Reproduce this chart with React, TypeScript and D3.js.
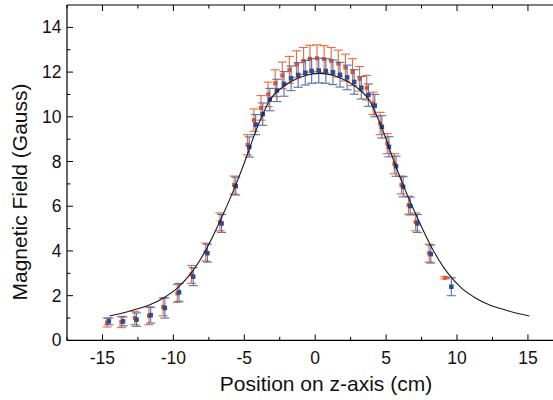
import React from "react";
import * as d3 from "d3";

// Blue series (measured)
const blueZ = [-14.55, -13.55, -12.6, -11.6, -10.6, -9.6, -8.6, -7.6, -6.6, -5.6, -4.65, -4.2, -3.7, -3.2, -2.7, -2.2, -1.7, -1.2, -0.7, -0.25, 0.25, 0.75, 1.25, 1.75, 2.25, 2.75, 3.25, 3.75, 4.2, 4.7, 5.2, 5.7, 6.2, 6.7, 7.2, 8.15, 9.6];
const blueB = [0.85, 0.85, 0.93, 1.13, 1.45, 2.15, 2.85, 3.9, 5.23, 6.9, 8.65, 9.65, 10.12, 10.77, 11.18, 11.47, 11.72, 11.87, 11.97, 12.05, 12.07, 12.05, 11.99, 11.88, 11.76, 11.56, 11.3, 10.97, 10.5, 9.55, 8.66, 7.79, 6.87, 6.01, 5.23, 3.86, 2.4];
const blueErr = [0.15, 0.2, 0.3, 0.35, 0.45, 0.4, 0.4, 0.4, 0.4, 0.4, 0.45, 0.45, 0.5, 0.5, 0.5, 0.55, 0.55, 0.55, 0.55, 0.55, 0.55, 0.55, 0.55, 0.55, 0.55, 0.55, 0.5, 0.5, 0.5, 0.5, 0.45, 0.45, 0.45, 0.4, 0.4, 0.4, 0.4];

// Orange series (measured)
const orangeZ = [-14.67, -13.67, -12.72, -11.72, -10.72, -9.72, -8.72, -7.72, -6.72, -5.72, -4.77, -4.32, -3.82, -3.32, -2.82, -2.32, -1.82, -1.32, -0.82, -0.37, 0.13, 0.63, 1.13, 1.63, 2.13, 2.63, 3.13, 3.63, 4.08, 4.58, 5.08, 5.58, 6.08, 6.58, 7.08, 8.03, 9.15];
const orangeB = [0.8, 0.82, 1.0, 1.1, 1.5, 2.1, 2.95, 3.95, 5.3, 6.95, 8.75, 9.85, 10.4, 11.0, 11.5, 11.85, 12.1, 12.35, 12.5, 12.6, 12.62, 12.58, 12.5, 12.38, 12.2, 12.0, 11.7, 11.3, 10.6, 9.7, 8.8, 7.9, 6.95, 6.05, 5.3, 3.9, 2.8];
const orangeErr = [0.2, 0.25, 0.3, 0.4, 0.4, 0.4, 0.4, 0.4, 0.4, 0.4, 0.45, 0.5, 0.55, 0.55, 0.6, 0.6, 0.6, 0.6, 0.6, 0.6, 0.6, 0.6, 0.6, 0.6, 0.6, 0.6, 0.55, 0.55, 0.5, 0.5, 0.45, 0.45, 0.4, 0.4, 0.4, 0.4, 0.05];

// Theory curve samples
const curveZ = [-14.5, -13.7, -12.7, -11.7, -10.7, -9.7, -8.7, -7.7, -6.7, -5.7, -4.7, -4.2, -3.7, -3.2, -2.7, -1.7, -0.7, 0.3, 1.3, 2.3, 3.3, 3.8, 4.3, 4.8, 5.3, 6.3, 7.3, 8.3, 9.3, 10.3, 11.3, 12.3, 13.3, 14.3, 15.1];
const curveB = [1.09, 1.2, 1.38, 1.58, 1.9, 2.35, 3.05, 4.05, 5.35, 6.8, 8.45, 9.35, 10.1, 10.75, 11.12, 11.58, 11.85, 11.94, 11.85, 11.58, 11.12, 10.75, 10.1, 9.35, 8.45, 6.8, 5.35, 4.05, 3.05, 2.35, 1.9, 1.58, 1.38, 1.2, 1.09];

const xMajor = [-15, -10, -5, 0, 5, 10, 15];
const xMinor = [-17.5, -12.5, -7.5, -2.5, 2.5, 7.5, 12.5, 17.5];
const yMajor = [0, 2, 4, 6, 8, 10, 12, 14];
const yMinor = [1, 3, 5, 7, 9, 11, 13];

const W = 553;
const H = 400;
const FONT = "'Liberation Sans', Arial, Helvetica, sans-serif";

export default function App() {
  const x = d3.scaleLinear().domain([-17.5, 17.5]).range([67, 563.4]);
  const y = d3.scaleLinear().domain([0, 15]).range([340.4, 5]);
  const left = x(-17.5);
  const right = x(17.5);
  const top = y(15);
  const bottom = y(0);

  const line = d3
    .line<number>()
    .x((_, i) => x(curveZ[i]))
    .y((d) => y(d))
    .curve(d3.curveCatmullRom.alpha(0.5));

  const BLUE = "#3d5ea8";
  const BLUE_M = "#2c4b95";
  const ORANGE = "#ea5420";
  const cap = 4.5;

  const errBars = (zs: number[], bs: number[], es: number[], color: string, key: string) =>
    zs.map((z, i) => {
      const cx = x(z);
      const y1 = y(bs[i] + es[i]);
      const y2 = y(bs[i] - es[i]);
      return (
        <g key={key + i} stroke={color} strokeWidth={1.15} opacity={0.85}>
          <line x1={cx} x2={cx} y1={y1} y2={y2} />
          <line x1={cx - cap} x2={cx + cap} y1={y1} y2={y1} />
          <line x1={cx - cap} x2={cx + cap} y1={y2} y2={y2} />
        </g>
      );
    });

  return (
    <svg
      width={W}
      height={H}
      style={{ position: "absolute", left: 0, top: 0, background: "#fff" }}
      fontFamily={FONT}
    >
      <rect x={0} y={0} width={W} height={H} fill="#fff" />
      {/* frame */}
      <g stroke="#000" strokeWidth={1.2} fill="none">
        <line x1={left} x2={right} y1={top} y2={top} />
        <line x1={left} x2={right} y1={bottom} y2={bottom} />
        <line x1={left} x2={left} y1={top} y2={bottom} />
        <line x1={right} x2={right} y1={top} y2={bottom} />
      </g>
      {/* ticks (inward) */}
      <g stroke="#000" strokeWidth={1}>
        {xMajor.map((v) => (
          <g key={"xM" + v}>
            <line x1={x(v)} x2={x(v)} y1={bottom} y2={bottom - 6} />
            <line x1={x(v)} x2={x(v)} y1={top} y2={top + 6} />
          </g>
        ))}
        {xMinor.map((v) => (
          <g key={"xm" + v}>
            <line x1={x(v)} x2={x(v)} y1={bottom} y2={bottom - 3.5} />
            <line x1={x(v)} x2={x(v)} y1={top} y2={top + 3.5} />
          </g>
        ))}
        {yMajor.map((v) => (
          <line key={"yM" + v} x1={left} x2={left + 6} y1={y(v)} y2={y(v)} />
        ))}
        {yMinor.map((v) => (
          <line key={"ym" + v} x1={left} x2={left + 3.5} y1={y(v)} y2={y(v)} />
        ))}
      </g>
      {/* tick labels */}
      <g fontSize={17.5} fill="#111">
        {xMajor.map((v) => (
          <text key={"xl" + v} x={x(v)} y={364} textAnchor="middle">
            {String(v)}
          </text>
        ))}
        {yMajor.map((v) => (
          <text key={"yl" + v} x={61.5} y={y(v) + 6} textAnchor="end">
            {String(v)}
          </text>
        ))}
      </g>
      {/* axis titles */}
      <text x={326} y={391} textAnchor="middle" fontSize={21} fill="#111">
        Position on z-axis (cm)
      </text>
      <text
        transform={`translate(27,192) rotate(-90)`}
        textAnchor="middle"
        fontSize={21}
        fill="#111"
      >
        Magnetic Field (Gauss)
      </text>
      {/* data */}
      {errBars(orangeZ, orangeB, orangeErr, ORANGE, "oe")}
      {orangeZ.map((z, i) => (
        <rect key={"om" + i} x={x(z) - 2} y={y(orangeB[i]) - 2} width={4} height={4} fill={ORANGE} />
      ))}
      {errBars(blueZ, blueB, blueErr, BLUE, "be")}
      {blueZ.map((z, i) => (
        <rect key={"bm" + i} x={x(z) - 2.25} y={y(blueB[i]) - 2.25} width={4.5} height={4.5} fill={BLUE_M} />
      ))}
      <path d={line(curveB) || ""} fill="none" stroke="#1a1a1a" strokeWidth={1.1} />
    </svg>
  );
}
